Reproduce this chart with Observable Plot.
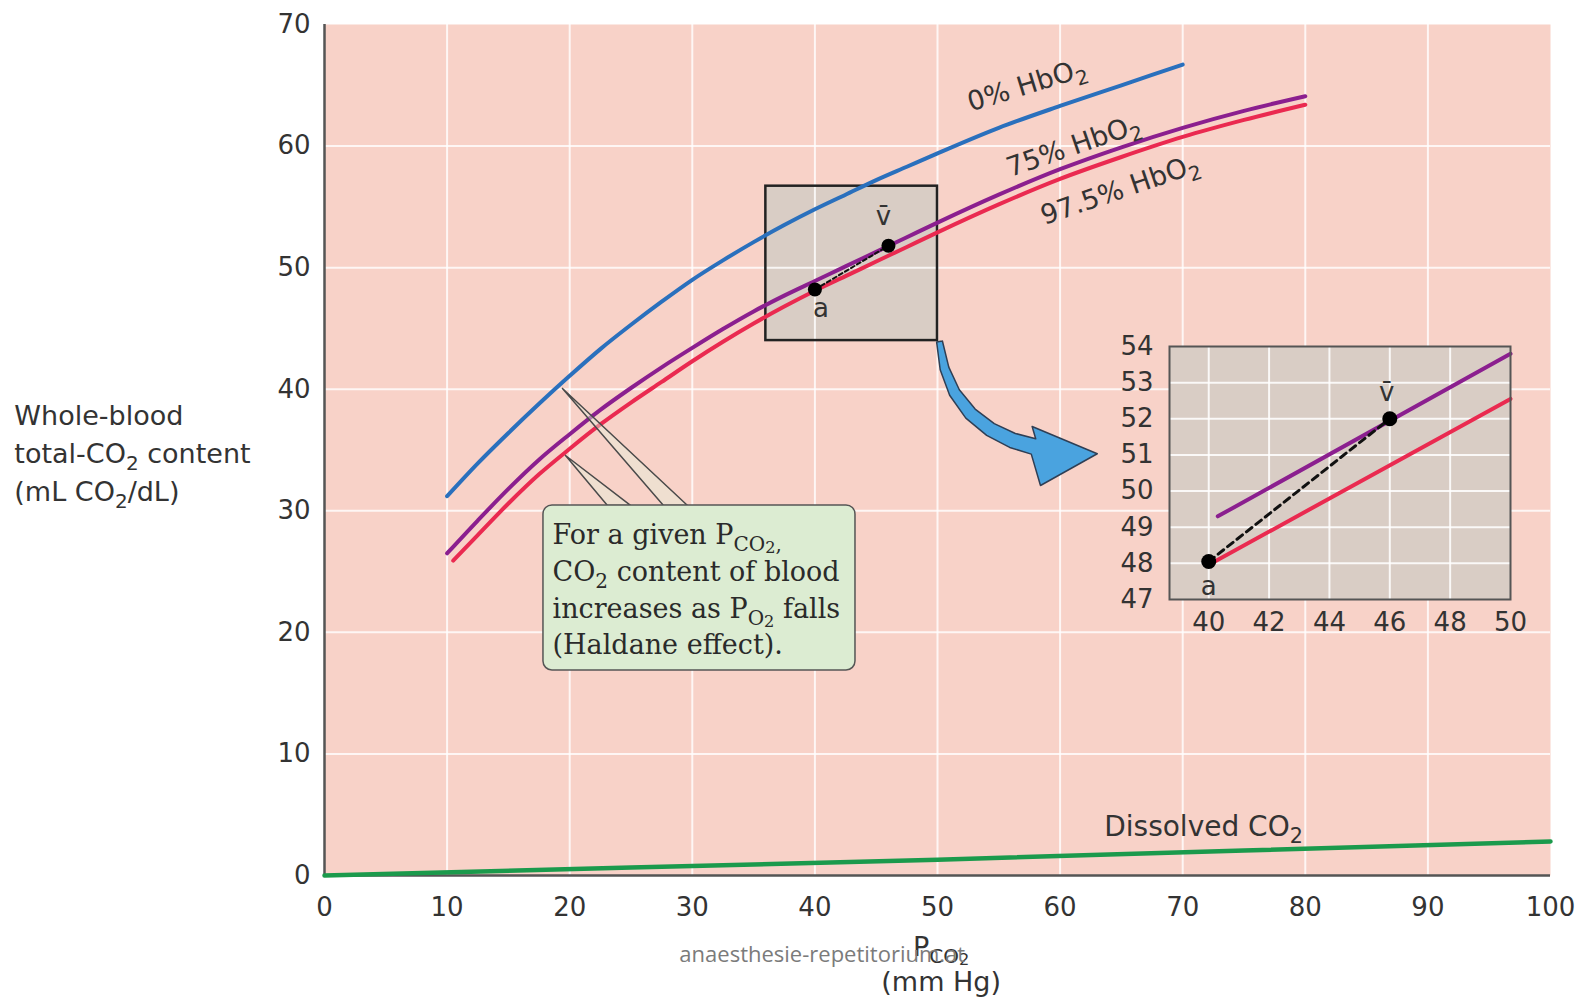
<!DOCTYPE html>
<html><head><meta charset="utf-8">
<script src="https://cdn.jsdelivr.net/npm/d3@7"></script>
<script src="https://cdn.jsdelivr.net/npm/@observablehq/plot@0.6"></script>
<style>
html,body{margin:0;padding:0;background:#fff;}
#wrap{position:relative;width:1585px;height:1004px;overflow:hidden;}
#main{position:absolute;left:0;top:0;}
#inset{position:absolute;left:1080px;top:320px;}
svg{display:block;}
</style></head><body>
<div id="wrap"><div id="main"></div><div id="inset"></div></div>
<script>
// ---------- data ----------
const xTicks = [0, 10, 20, 30, 40, 50, 60, 70, 80, 90, 100];
const yTicks = [0, 10, 20, 30, 40, 50, 60, 70];

// 0% HbO2 curve
const pco2_0 = [10, 12.5, 15, 17.5, 20, 22.5, 25, 27.5, 30, 32.5, 35, 37.5, 40, 42.5, 45, 47.5, 50, 55, 60, 65, 70];
const co2_0 = [31.2, 33.9, 36.4, 38.8, 41.1, 43.3, 45.3, 47.2, 49.0, 50.6, 52.1, 53.5, 54.8, 56.0, 57.2, 58.3, 59.4, 61.5, 63.3, 65.0, 66.7];
// 75% HbO2 curve
const pco2_75 = [10, 12.5, 15, 17.5, 20, 22.5, 25, 27.5, 30, 32.5, 35, 37.5, 40, 42.5, 45, 47.5, 50, 55, 60, 65, 70, 75, 80];
const co2_75 = [26.5, 29.2, 31.8, 34.2, 36.3, 38.3, 40.1, 41.8, 43.4, 44.95, 46.4, 47.7, 48.9, 50.1, 51.3, 52.5, 53.7, 56.0, 58.1, 59.9, 61.5, 62.9, 64.1];
// 97.5% HbO2 curve
const pco2_975 = [10.5, 12.5, 15, 17.5, 20, 22.5, 25, 27.5, 30, 32.5, 35, 37.5, 40, 42.5, 45, 47.5, 50, 55, 60, 65, 70, 75, 80];
const co2_975 = [25.9, 28.0, 30.6, 33.0, 35.1, 37.1, 38.9, 40.6, 42.3, 43.9, 45.4, 46.8, 48.1, 49.3, 50.5, 51.7, 52.9, 55.2, 57.3, 59.1, 60.75, 62.15, 63.4];
// Dissolved CO2
const pco2_diss = [0, 25, 50, 75, 100];
const co2_diss = [0, 0.65, 1.3, 2.05, 2.8];

// arterial (a) and mixed venous (v̄) points
const pointNames = ["a", "v\u0304"];
const pointPco2 = [40, 46];
const pointCo2 = [48.2, 51.8];
const pointLabelPco2 = [40.5, 45.6];
const pointLabelCo2 = [46.6, 54.2];

// curve labels
const curveLabels = ["0% HbO_{2}", "75% HbO_{2}", "97.5% HbO_{2}", "Dissolved CO_{2}"];
const curveLabelPco2 = [57.3, 61.1, 64.9, 71.7];
const curveLabelCo2 = [65.0, 60.0, 56.4, 4.0];
const curveLabelAngle = [-17, -19, -19, 0];

// zoom window on main chart
const zoomPco2 = [36, 50];
const zoomCo2 = [44, 56.7];

// curved arrow outline (data coordinates)
const arrowPco2 = [50.40, 50.92, 51.78, 53.07, 54.63, 56.35, 58.01, 57.72, 63.03, 58.40, 57.65, 55.89, 54.01, 52.31, 50.99, 50.22, 49.93, 50.40];
const arrowCo2 = [43.97, 41.82, 39.96, 38.37, 37.17, 36.36, 35.92, 36.93, 34.69, 32.08, 34.66, 35.21, 36.20, 37.62, 39.50, 41.60, 43.88, 43.97];

// callout box
const calloutPco2 = [17.86, 43.31];
const calloutCo2 = [16.86, 30.44];
const calloutLines = ["For a given P_{CO}__{2}_{,}", "CO_{2} content of blood", "increases as P_{O}__{2} falls", "(Haldane effect)."];
const calloutLineCo2 = [27.99, 24.95, 21.9, 18.94];
const calloutTextPco2 = 18.6;
// callout pointers
const pointerId = [1, 1, 1, 1, 2, 2, 2, 2];
const pointerPco2 = [19.41, 27.65, 29.61, 19.41, 19.66, 23.08, 24.96, 19.66];
const pointerCo2 = [40.06, 30.44, 30.44, 40.06, 34.55, 30.44, 30.44, 34.55];

// axis titles
const yTitleLines = ["Whole-blood", "total-CO_{2} content", "(mL CO_{2}/dL)"];
const yTitleCo2 = [37.78, 34.65, 31.53];
const yTitlePco2 = -25.3;
const xTitleLines = ["P_{CO}__{2}", "(mm Hg)"];
const xTitleCo2 = [-5.9, -8.75];
const xTitlePco2 = 50.3;
const watermark = "anaesthesie-repetitorium.at";
const watermarkPco2 = 40.6;
const watermarkCo2 = -6.55;

// inset
const insetXTicks = [40, 42, 44, 46, 48, 50];
const insetYTicks = [47, 48, 49, 50, 51, 52, 53, 54];
const insetPco2_75 = [40.3, 50];
const insetCo2_75 = [49.3, 53.8];
const insetPco2_975 = [40.2, 50];
const insetCo2_975 = [48.05, 52.55];
const insetPointPco2 = [40, 46];
const insetPointCo2 = [48.05, 52.0];
const insetLabelPco2 = [40, 45.9];
const insetLabelCo2 = [47.36, 52.72];

// ---------- colours ----------
const PINK = "#f8d2c8", GREY = "#d9cdc5", BLUE = "#2a70bd", PURPLE = "#8b1f8f", RED = "#ea2a50", GREEN = "#1b9a4c";

const rows = (xs, ys) => xs.map((x, i) => ({x, y: ys[i]}));

const curve0 = rows(pco2_0, co2_0);
const curve75 = rows(pco2_75, co2_75);
const curve975 = rows(pco2_975, co2_975);
const curveDiss = rows(pco2_diss, co2_diss);
const points = pointNames.map((n, i) => ({n, x: pointPco2[i], y: pointCo2[i], lx: pointLabelPco2[i], ly: pointLabelCo2[i]}));
const labels = curveLabels.map((t, i) => ({t, x: curveLabelPco2[i], y: curveLabelCo2[i], a: curveLabelAngle[i]}));
const arrow = rows(arrowPco2, arrowCo2);
const pointers = pointerId.map((id, i) => ({id, x: pointerPco2[i], y: pointerCo2[i]}));
const zoomBox = [{x1: zoomPco2[0], x2: zoomPco2[1], y1: zoomCo2[0], y2: zoomCo2[1]}];
const callout = [{x1: calloutPco2[0], x2: calloutPco2[1], y1: calloutCo2[0], y2: calloutCo2[1]}];

const main = Plot.plot({
  width: 1585, height: 1004,
  marginLeft: 324, marginRight: 35, marginTop: 24, marginBottom: 129,
  style: {fontFamily: "'DejaVu Sans', sans-serif", fontSize: "26px", color: "#333", background: "transparent"},
  x: {domain: [0, 100], ticks: xTicks, tickSize: 0, tickPadding: 22, label: null},
  y: {domain: [0, 70], ticks: yTicks, tickSize: 0, tickPadding: 14, label: null},
  marks: [
    Plot.frame({fill: PINK, stroke: "none"}),
    Plot.rect(zoomBox, {x1: "x1", x2: "x2", y1: "y1", y2: "y2", fill: GREY}),
    Plot.ruleX(xTicks.slice(1, -1), {stroke: "white", strokeWidth: 2, strokeOpacity: 0.8}),
    Plot.ruleY(yTicks.slice(1, -1), {stroke: "white", strokeWidth: 2, strokeOpacity: 0.8}),
    Plot.rect(zoomBox, {x1: "x1", x2: "x2", y1: "y1", y2: "y2", fill: "none", stroke: "#222", strokeWidth: 2.5}),
    Plot.ruleX([0], {stroke: "#555", strokeWidth: 2.5}),
    Plot.ruleY([0], {stroke: "#555", strokeWidth: 2.5}),
    Plot.line(curveDiss, {x: "x", y: "y", stroke: GREEN, strokeWidth: 4.5}),
    Plot.line(curve0, {x: "x", y: "y", stroke: BLUE, strokeWidth: 4, curve: "monotone-x"}),
    Plot.line(curve975, {x: "x", y: "y", stroke: RED, strokeWidth: 4, curve: "monotone-x"}),
    Plot.line(curve75, {x: "x", y: "y", stroke: PURPLE, strokeWidth: 4, curve: "monotone-x"}),
    Plot.line(points, {x: "x", y: "y", stroke: "#111", strokeWidth: 2, strokeDasharray: "4,3"}),
    Plot.dot(points, {x: "x", y: "y", r: 7, fill: "#000", stroke: "none"}),
    Plot.text(points, {x: "lx", y: "ly", text: "n", fontSize: 26, fill: "#333"}),
    Plot.text(labels.slice(0, 3), {x: "x", y: "y", text: "t", rotate: "a", fontSize: 27, fill: "#333"}),
    Plot.text(labels.slice(3), {x: "x", y: "y", text: "t", fontSize: 28, fill: "#333"}),
    Plot.line(arrow, {x: "x", y: "y", fill: "#4aa3df", stroke: "#2f3f55", strokeWidth: 1.5, curve: "linear"}),
    Plot.line(pointers, {x: "x", y: "y", z: "id", fill: "#e4f0da", fillOpacity: 0.45, stroke: "#4a4a4a", strokeWidth: 1.5, curve: "linear"}),
    Plot.rect(callout, {x1: "x1", x2: "x2", y1: "y1", y2: "y2", fill: "#dcecd2", stroke: "#555", strokeWidth: 1.5, rx: 9}),
    Plot.text(calloutLines, {x: () => calloutTextPco2, y: (d, i) => calloutLineCo2[i], text: d => d, textAnchor: "start", fontFamily: "'DejaVu Serif', serif", fontSize: 27, fill: "#2a2a2a"}),
    Plot.text(yTitleLines, {x: () => yTitlePco2, y: (d, i) => yTitleCo2[i], text: d => d, textAnchor: "start", fontSize: 27, fill: "#333"}),
    Plot.text(xTitleLines, {x: () => xTitlePco2, y: (d, i) => xTitleCo2[i], text: d => d, fontSize: 27, fill: "#333"}),
    Plot.text([watermark], {x: () => watermarkPco2, y: () => watermarkCo2, text: d => d, fontFamily: "'Open Sans', sans-serif", fontSize: 22, fill: "#7b7b7b"})
  ]
});
document.getElementById("main").appendChild(main);

const inset = Plot.plot({
  width: 460, height: 330,
  marginLeft: 89, marginRight: 30, marginTop: 26, marginBottom: 51,
  style: {fontFamily: "'DejaVu Sans', sans-serif", fontSize: "26px", color: "#333", background: "transparent"},
  x: {domain: [38.7, 50], ticks: insetXTicks, tickSize: 0, tickPadding: 13, tickFormat: d => String(d), label: null},
  y: {domain: [47, 54], ticks: insetYTicks, tickSize: 0, tickPadding: 16, tickFormat: d => String(d), label: null},
  marks: [
    Plot.frame({fill: GREY, stroke: "none"}),
    Plot.ruleX(insetXTicks.slice(0, -1), {stroke: "white", strokeWidth: 2, strokeOpacity: 0.85}),
    Plot.ruleY(insetYTicks.slice(1, -1), {stroke: "white", strokeWidth: 2, strokeOpacity: 0.85}),
    Plot.line(rows(insetPco2_975, insetCo2_975), {x: "x", y: "y", stroke: RED, strokeWidth: 4}),
    Plot.line(rows(insetPco2_75, insetCo2_75), {x: "x", y: "y", stroke: PURPLE, strokeWidth: 4}),
    Plot.line(rows(insetPointPco2, insetPointCo2), {x: "x", y: "y", stroke: "#111", strokeWidth: 3, strokeDasharray: "7,5"}),
    Plot.dot(rows(insetPointPco2, insetPointCo2), {x: "x", y: "y", r: 7.5, fill: "#000", stroke: "none"}),
    Plot.text(pointNames, {x: (d, i) => insetLabelPco2[i], y: (d, i) => insetLabelCo2[i], text: d => d, fontSize: 26, fill: "#333"}),
    Plot.frame({stroke: "#555", strokeWidth: 2})
  ]
});
document.getElementById("inset").appendChild(inset);

// render "_{...}" as subscripts and "__{...}" as second-level subscripts
function applySubscripts(root) {
  root.querySelectorAll("text").forEach(t => {
    const s = t.textContent;
    if (!s.includes("_{") || t.querySelector("tspan")) return;
    const fs = parseFloat(getComputedStyle(t).fontSize) || 26;
    const offsets = [0, fs * 0.26, fs * 0.34];
    const sizes = [fs, fs * 0.74, fs * 0.6];
    const parts = s.split(/(__?\{[^}]*\})/).filter(p => p.length);
    t.textContent = "";
    let level = 0;
    for (const p of parts) {
      const ts = document.createElementNS("http://www.w3.org/2000/svg", "tspan");
      let newLevel = 0, txt = p;
      const m = p.match(/^(__?)\{([^}]*)\}$/);
      if (m) { newLevel = m[1].length; txt = m[2]; }
      ts.textContent = txt;
      if (newLevel !== level) ts.setAttribute("dy", (offsets[newLevel] - offsets[level]).toFixed(1));
      if (newLevel > 0) ts.setAttribute("font-size", sizes[newLevel].toFixed(1));
      level = newLevel;
      t.appendChild(ts);
    }
  });
}
applySubscripts(main);
applySubscripts(inset);
</script>
</body></html>
